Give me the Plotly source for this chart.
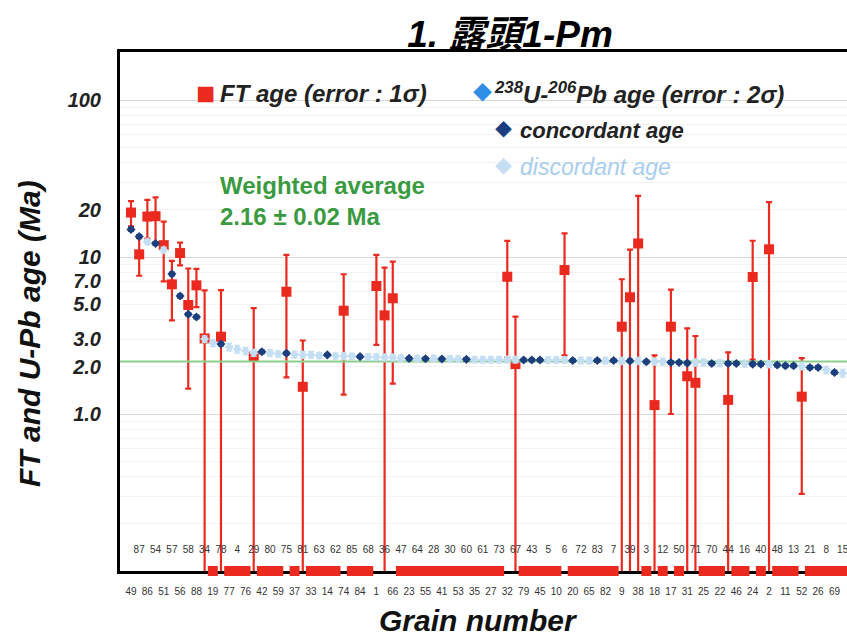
import plotly.graph_objects as go

# grain numbers in plotted order (left -> right)
grain_order = [49, 87, 86, 54, 51, 57, 56, 58, 88, 34, 19, 78, 77, 4, 76, 29, 42, 80, 59, 75,
               37, 81, 33, 63, 14, 62, 74, 85, 84, 68, 1, 36, 66, 47, 23, 64, 55, 28, 41, 30,
               53, 60, 35, 61, 27, 73, 32, 67, 79, 43, 45, 5, 10, 6, 20, 72, 65, 83, 82, 7,
               9, 39, 38, 3, 18, 12, 17, 50, 31, 71, 25, 70, 22, 44, 46, 16, 24, 40, 2, 48,
               11, 13, 52, 21, 26, 8, 69, 15]

# FT age (Ma), 0 = no spontaneous tracks; error 1 sigma
ft_age = [19.2, 10.4, 18.1, 18.2, 11.9, 6.7, 10.6, 4.95, 6.6, 3.03,
          0, 3.11, 0, 0, 0, 2.32, 0, 0, 0, 6.01,
          0, 1.49, 0, 0, 0, 0, 4.55, 0, 0, 0,
          6.54, 4.25, 5.46, 0, 0, 0, 0, 0, 0, 0,
          0, 0, 0, 0, 0, 0, 7.49, 2.08, 0, 0,
          0, 0, 0, 8.26, 0, 0, 0, 0, 0, 0,
          3.6, 5.54, 12.2, 0, 1.14, 0, 3.6, 0, 1.74, 1.58,
          0, 0, 0, 1.23, 0, 0, 7.46, 0, 11.2, 0,
          0, 0, 1.29, 0, 0, 0, 0, 0]
ft_err = [3.5, 2.8, 5.0, 5.8, 4.9, 2.75, 1.75, 3.5, 1.8, 3.1,
          0, 3.05, 0, 0, 0, 2.4, 0, 0, 0, 4.3,
          0, 1.45, 0, 0, 0, 0, 3.22, 0, 0, 0,
          3.78, 4.3, 3.9, 0, 0, 0, 0, 0, 0, 0,
          0, 0, 0, 0, 0, 0, 5.2, 2.09, 0, 0,
          0, 0, 0, 5.9, 0, 0, 0, 0, 0, 0,
          3.62, 5.6, 12.3, 0, 1.22, 0, 2.6, 0, 1.77, 1.56,
          0, 0, 0, 1.24, 0, 0, 5.24, 0, 11.15, 0,
          0, 0, 0.98, 0, 0, 0, 0, 0]

# 238U-206Pb age (Ma), error 2 sigma; C = concordant, D = discordant
upb_age = [15.0, 13.5, 12.5, 12.2, 11.1, 7.79, 5.64, 4.32, 4.15, 3.00,
           2.83, 2.79, 2.67, 2.59, 2.52, 2.45, 2.49, 2.45, 2.41, 2.44,
           2.39, 2.38, 2.38, 2.36, 2.38, 2.34, 2.34, 2.33, 2.32, 2.31,
           2.31, 2.29, 2.29, 2.27, 2.26, 2.26, 2.25, 2.26, 2.24, 2.24,
           2.24, 2.23, 2.22, 2.22, 2.22, 2.22, 2.22, 2.22, 2.21, 2.21,
           2.21, 2.21, 2.21, 2.21, 2.19, 2.19, 2.19, 2.19, 2.19, 2.19,
           2.18, 2.18, 2.18, 2.15, 2.16, 2.16, 2.13, 2.13, 2.11, 2.13,
           2.13, 2.10, 2.11, 2.10, 2.10, 2.09, 2.08, 2.08, 2.08, 2.05,
           2.03, 2.03, 2.02, 1.98, 1.98, 1.91, 1.84, 1.82]
upb_err = [0.4, 0.35, 0.5, 0.3, 0.45, 0.2, 0.15, 0.1, 0.1, 0.14,
           0.14, 0.07, 0.14, 0.14, 0.13, 0.12, 0.06, 0.12, 0.11, 0.06,
           0.11, 0.11, 0.11, 0.1, 0.05, 0.1, 0.1, 0.1, 0.05, 0.1,
           0.1, 0.1, 0.1, 0.1, 0.05, 0.1, 0.05, 0.1, 0.05, 0.1,
           0.1, 0.05, 0.1, 0.1, 0.1, 0.1, 0.1, 0.1, 0.05, 0.05,
           0.05, 0.1, 0.1, 0.1, 0.05, 0.1, 0.1, 0.05, 0.1, 0.05,
           0.1, 0.05, 0.1, 0.05, 0.1, 0.1, 0.05, 0.05, 0.05, 0.1,
           0.1, 0.05, 0.1, 0.05, 0.05, 0.1, 0.05, 0.05, 0.1, 0.05,
           0.05, 0.05, 0.1, 0.05, 0.05, 0.1, 0.05, 0.1]
upb_type = ("CCDCDCCCCD" "DCDDDDCDDC" "DDDDCDDDCD" "DDDDCDCDCD" "DCDDDDDDCC"
            "CDDDCDDCDC" "DCDCDDCCCD" "DCDCCDCCDC" "CCDCCDCD")

weighted_avg = 2.16

y_ticks = [1, 2, 3, 5, 7, 10, 20, 100]
y_ticktext = ["1.0", "2.0", "3.0", "5.0", "7.0", "10", "20", "100"]

RED = "#ea2a1f"
NAVY = "#1b3f7e"
PALE = "#c4def4"
FONT = "Liberation Sans, Arial, Noto Sans CJK JP"

Y_RANGE = [-1.0, 2.306]
X_RANGE = [-1.345, 87.53]

idx = list(range(len(grain_order)))

fig = go.Figure()

# FT ages with 1 sigma errors
ft_x = [i for i in idx if ft_age[i] > 0]
fig.add_trace(go.Scatter(
    x=ft_x, y=[ft_age[i] for i in ft_x], mode="markers",
    marker=dict(symbol="square", size=10, color=RED),
    error_y=dict(type="data", array=[ft_err[i] for i in ft_x], color=RED, thickness=2.2, width=3),
    showlegend=False,
))
# FT age = 0 -> drawn on the bottom of the axis
ft_zero = [i for i in idx if ft_age[i] == 0]
fig.add_trace(go.Scatter(
    x=ft_zero, y=[10 ** Y_RANGE[0]] * len(ft_zero), mode="markers",
    marker=dict(symbol="square", size=10, color=RED),
    cliponaxis=False, showlegend=False,
))

# weighted average line
fig.add_trace(go.Scatter(
    x=X_RANGE, y=[weighted_avg, weighted_avg], mode="lines",
    line=dict(color="#8ccf8c", width=2), showlegend=False,
))

for kind, col in [("D", PALE), ("C", NAVY)]:
    sel = [i for i in idx if upb_type[i] == kind]
    fig.add_trace(go.Scatter(
        x=sel, y=[upb_age[i] for i in sel], mode="markers",
        marker=dict(symbol="diamond", size=7, color=col),
        error_y=dict(type="data", array=[upb_err[i] for i in sel], color=col, thickness=1.5, width=3),
        showlegend=False,
    ))

# helpers for the overlay axes (upper label row and grid lines)
fig.add_trace(go.Scatter(x=[0], y=[1], xaxis="x2", yaxis="y", mode="markers",
                         marker=dict(opacity=0), hoverinfo="skip", showlegend=False))
fig.add_trace(go.Scatter(x=[0], y=[1], xaxis="x", yaxis="y2", mode="markers",
                         marker=dict(opacity=0), hoverinfo="skip", showlegend=False))
fig.add_trace(go.Scatter(x=[0], y=[1], xaxis="x", yaxis="y3", mode="markers",
                         marker=dict(opacity=0), hoverinfo="skip", showlegend=False))

minor_vals = [k * 10 ** d for d in (-1, 0, 1, 2) for k in range(2, 10) if k * 10 ** d < 200]

label_font = dict(family=FONT, size=10, color="#333")

fig.update_layout(
    width=847, height=637,
    margin=dict(l=120, r=0, t=52, b=66),
    plot_bgcolor="white", paper_bgcolor="white",
    font=dict(family=FONT),
    title=dict(text="1. 露頭1-Pm", x=510 / 847, xanchor="center", y=1 - 34 / 637, yanchor="middle",
               font=dict(family=FONT, size=37, color="black", weight="bold", style="italic")),
    xaxis=dict(range=X_RANGE, tickmode="array", tickvals=idx[0::2], ticktext=[str(g) for g in grain_order[0::2]],
               tickangle=0, ticks="", ticklabelstandoff=9, tickfont=label_font, automargin=False,
               ticklabeloverflow="allow",
               showgrid=False, zeroline=False, showline=True, linecolor="black", linewidth=3,
               mirror=True, layer="below traces"),
    xaxis2=dict(overlaying="x", matches="x", side="bottom", anchor="y", tickmode="array",
                tickvals=idx[1::2], ticktext=[str(g) for g in grain_order[1::2]], automargin=False,
                ticklabelposition="inside", ticklabelstandoff=13, tickangle=0, ticks="",
                ticklabeloverflow="allow",
                tickfont=label_font, showgrid=False, zeroline=False, showline=False),
    yaxis=dict(type="log", range=Y_RANGE, tickmode="array", tickvals=y_ticks, ticktext=y_ticktext,
               ticks="", ticklabelstandoff=12, showgrid=False, zeroline=False, automargin=False,
               tickfont=dict(family=FONT, size=20, color="#222", weight="bold", style="italic"),
               showline=True, linecolor="black", linewidth=3, mirror=False),
    yaxis2=dict(type="log", range=Y_RANGE, overlaying="y", anchor="x", tickmode="array", tickvals=minor_vals,
                showticklabels=False, ticks="", showgrid=True, gridcolor="#f3f3f3", zeroline=False,
                showline=False, automargin=False),
    yaxis3=dict(type="log", range=Y_RANGE, overlaying="y", anchor="x", tickmode="array", tickvals=[1, 10, 100],
                showticklabels=False, ticks="", showgrid=True, gridcolor="#d9d9d9", zeroline=False,
                showline=False, automargin=False),
)


def px_x(p):
    return (p - 120) / 727


def px_y(p):
    return (571 - p) / 519


def note(text, x, y, size, color="#222", weight="normal", style="italic", xanchor="left", **kw):
    fig.add_annotation(text=text, x=px_x(x), y=px_y(y), xref="paper", yref="paper",
                       xanchor=xanchor, yanchor="middle", showarrow=False,
                       font=dict(family=FONT, size=size, color=color, weight=weight, style=style), **kw)


# legend
note("■", 205, 93, 32, RED, style="normal", xanchor="center")
note("FT age (error : 1σ)", 218, 93, 24, weight="bold")
note("◆", 482, 93, 19, "#2f8fe6", style="normal", xanchor="center")
note("<sup>238</sup>U-<sup>206</sup>Pb age (error : 2σ)", 492, 93, 24, weight="bold")
note("◆", 504, 130, 17, NAVY, style="normal", xanchor="center")
note("concordant age", 518, 130, 22, weight="bold")
note("◆", 504, 167, 17, PALE, style="normal", xanchor="center")
note("discordant age", 518, 167, 23, "#a9cdee")

# weighted average
note("Weighted average<br>2.16 ± 0.02 Ma", 218, 201, 24, "#3a9a3f", weight="bold", style="normal", align="left")

# axis titles
note("FT and U-Pb age (Ma)", 29, 334, 30, "#111", weight="bold", xanchor="center", textangle=-90)
note("Grain number", 478, 620, 30, "#111", weight="bold", xanchor="center")

# page body has a default 8px margin; remove it so the figure sits at the window origin
fig.write_html("out.html", post_script="document.body.style.margin='0';",
               config={"displayModeBar": False})
